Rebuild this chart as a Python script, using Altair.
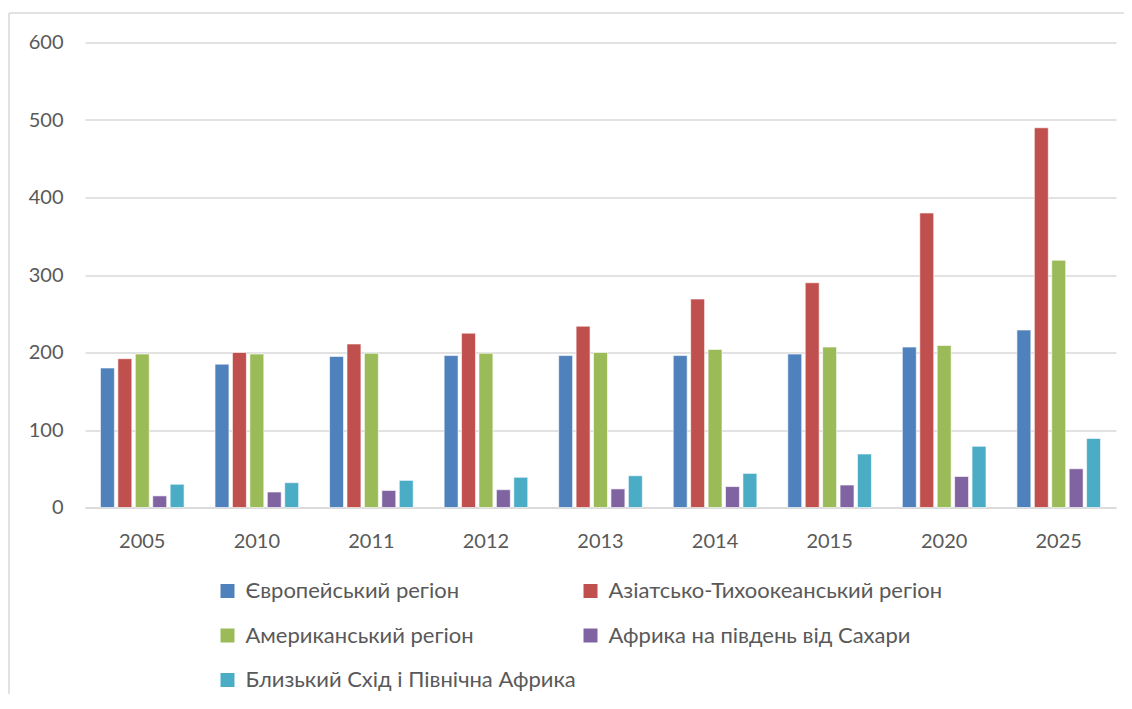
import altair as alt
import pandas as pd

years = ["2005", "2010", "2011", "2012", "2013", "2014", "2015", "2020", "2025"]
series = [
    "Європейський регіон",
    "Азіатсько-Тихоокеанський регіон",
    "Американський регіон",
    "Африка на південь від Сахари",
    "Близький Схід і Північна Африка",
]
europe = [180, 185, 195, 196, 196, 196, 198, 207, 229]
asia = [192, 200, 211, 225, 234, 269, 290, 380, 490]
america = [198, 198, 199, 199, 200, 204, 207, 209, 319]
ssa = [15, 20, 22, 23, 24, 27, 29, 40, 50]
mena = [30, 32, 35, 39, 41, 44, 69, 79, 89]
colors = ["#4F81BD", "#C0504D", "#9BBB59", "#8064A2", "#4BACC6"]
y_ticks = [0, 100, 200, 300, 400, 500, 600]

rows = []
for name, vals in zip(series, [europe, asia, america, ssa, mena]):
    for yr, v in zip(years, vals):
        rows.append({"year": yr, "series": name, "value": v})
df = pd.DataFrame(rows)

FONT = "Lato"
GREY = "#595959"
W, H = 1031, 465

bars = alt.Chart(df).mark_bar(stroke="white", strokeWidth=1, strokeOpacity=0.6).encode(
    x=alt.X("year:N", sort=years, title=None,
            scale=alt.Scale(paddingInner=0.27, paddingOuter=0.135),
            axis=alt.Axis(labelAngle=0, labelFontSize=20, labelColor=GREY, labelFont=FONT,
                          labelPadding=24, ticks=False, grid=False,
                          domainColor="#d9d9d9", domainWidth=1.5)),
    xOffset=alt.XOffset("series:N", sort=series,
                        scale=alt.Scale(paddingInner=0.2, paddingOuter=0)),
    y=alt.Y("value:Q", title=None,
            scale=alt.Scale(domain=[0, 600]),
            axis=alt.Axis(values=y_ticks, labelFontSize=20, labelColor=GREY, labelFont=FONT,
                          labelPadding=22, ticks=False, domain=False,
                          gridColor="#d9d9d9", gridWidth=1.5)),
    color=alt.Color("series:N", sort=series,
                    scale=alt.Scale(domain=series, range=colors),
                    legend=alt.Legend(orient="none", legendX=131.5, legendY=537.5, columns=2,
                                      direction="horizontal", title=None,
                                      symbolType="square", symbolSize=196, symbolStrokeWidth=0,
                                      labelFontSize=22, labelColor=GREY, labelFont=FONT,
                                      labelLimit=500, labelOffset=7, rowPadding=22.5,
                                      columnPadding=3, padding=0)),
)

frame_top = alt.Chart(pd.DataFrame({"a": [0]})).mark_rule(color="#d9d9d9", strokeWidth=1.5).encode(
    x=alt.value(-76), x2=alt.value(1060), y=alt.value(-29.5)
)
frame_left = alt.Chart(pd.DataFrame({"a": [0]})).mark_rule(color="#d9d9d9", strokeWidth=1.5).encode(
    x=alt.value(-76), y=alt.value(-29.5), y2=alt.value(700)
)

chart = alt.layer(frame_top, frame_left, bars).properties(
    width=W, height=H,
    autosize=alt.AutoSizeParams(type="none"),
    padding={"left": 77, "top": 34.5, "right": 8, "bottom": 186.5},
    background="white",
).configure_view(stroke=None)

chart.save("out.html", embed_options={"renderer": "svg", "actions": False})
